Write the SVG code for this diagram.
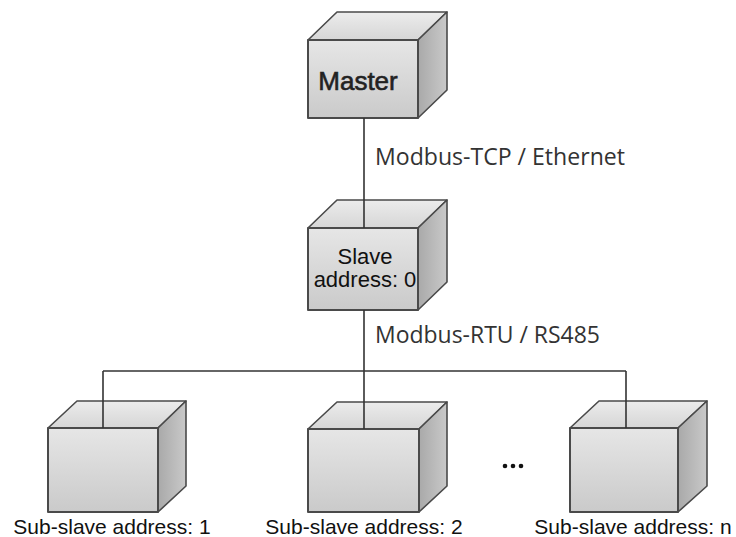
<svg xmlns="http://www.w3.org/2000/svg" width="736" height="537" viewBox="0 0 736 537">
<defs>
<linearGradient id="gFront" x1="0" y1="0" x2="0" y2="1">
<stop offset="0" stop-color="#e6e6e6"/><stop offset="1" stop-color="#cacaca"/>
</linearGradient>
<linearGradient id="gTop" x1="0" y1="0" x2="0" y2="1">
<stop offset="0" stop-color="#ececec"/><stop offset="1" stop-color="#d6d6d6"/>
</linearGradient>
<linearGradient id="gSide" x1="0" y1="0" x2="1" y2="0">
<stop offset="0" stop-color="#a9a9a9"/><stop offset="1" stop-color="#c9c9c9"/>
</linearGradient>
</defs>
<style>
.front{fill:url(#gFront);stroke:#4a4a4a;stroke-width:2;stroke-linejoin:round}
.top{fill:url(#gTop);stroke:#4a4a4a;stroke-width:1.6;stroke-linejoin:round}
.side{fill:url(#gSide);stroke:#4a4a4a;stroke-width:1.6;stroke-linejoin:round}
.conn{stroke:#333;stroke-width:1.6;fill:none}
.lbl{font-family:"Liberation Sans",Arial,sans-serif;fill:#111;font-size:21px;text-anchor:middle}
.big{font-size:22px}
.proto{font-family:"Open Sans","Noto Sans",sans-serif;fill:#333;font-size:24px}
</style>
<rect width="736" height="537" fill="#fff"/>
<g id="master">
<polygon class="top" points="308,40 337,12 447,12 418,40"/>
<polygon class="side" points="418,40 447,12 447,90 418,118"/>
<rect class="front" x="308" y="40" width="110" height="78"/>
<text x="358" y="90" font-family="Liberation Sans,Arial,sans-serif" font-size="26" fill="#222" stroke="#222" stroke-width="0.6" text-anchor="middle">Master</text>
</g>
<g id="slave">
<polygon class="top" points="308,228 337,200 447,200 418,228"/>
<polygon class="side" points="418,228 447,200 447,282 418,310"/>
<rect class="front" x="308" y="228" width="110" height="82"/>
<text class="lbl big" x="365" y="264">Slave</text>
<text class="lbl big" x="365" y="287">address: 0</text>
</g>
<g id="sub1">
<polygon class="top" points="48,428 77,401 186,401 158,428"/>
<polygon class="side" points="158,428 186,401 186,486 158,512"/>
<rect class="front" x="48" y="428" width="110" height="84"/>
<text class="lbl" x="112" y="534">Sub-slave address: 1</text>
</g>
<g id="sub2">
<polygon class="top" points="308,429 337,402 447,402 419,429"/>
<polygon class="side" points="419,429 447,402 447,486 419,512"/>
<rect class="front" x="308" y="429" width="111" height="83"/>
<text class="lbl" x="364" y="534">Sub-slave address: 2</text>
</g>
<g id="dots">
<circle cx="505" cy="466" r="2.3" fill="#111"/>
<circle cx="513" cy="466" r="2.3" fill="#111"/>
<circle cx="521" cy="466" r="2.3" fill="#111"/>
</g>
<g id="subn">
<polygon class="top" points="570,428 599,401 707,401 678,428"/>
<polygon class="side" points="678,428 707,401 707,486 678,512"/>
<rect class="front" x="570" y="428" width="108" height="84"/>
<text class="lbl" x="633" y="534">Sub-slave address: n</text>
</g>
<g id="connectors">
<line class="conn" x1="364" y1="118" x2="364" y2="228"/>
<line class="conn" x1="364" y1="310" x2="364" y2="429"/>
<line class="conn" x1="103" y1="371" x2="626" y2="371"/>
<line class="conn" x1="103" y1="371" x2="103" y2="428"/>
<line class="conn" x1="626" y1="371" x2="626" y2="428"/>
</g>
<g id="labels">
<text class="proto" x="375" y="165" textLength="250" lengthAdjust="spacingAndGlyphs">Modbus-TCP / Ethernet</text>
<text class="proto" x="375" y="343" textLength="225" lengthAdjust="spacingAndGlyphs">Modbus-RTU / RS485</text>
</g>
</svg>
